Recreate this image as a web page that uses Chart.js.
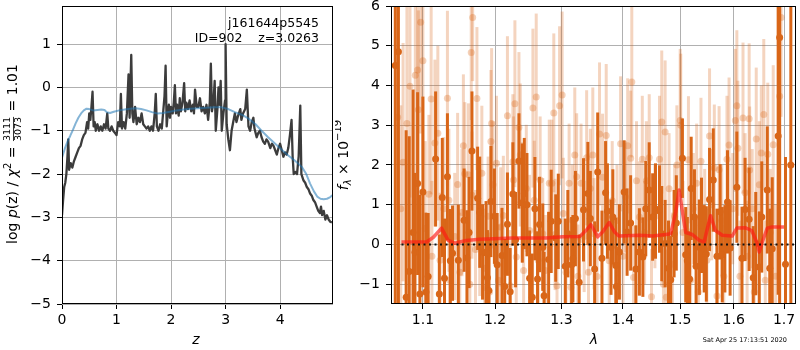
<!DOCTYPE html>
<html>
<head>
<meta charset="utf-8">
<script src="https://cdn.jsdelivr.net/npm/chart.js@4.4.1/dist/chart.umd.min.js"></script>
<style>
  body { margin: 0; background: #fff; }
  #wrap { position: relative; width: 800px; height: 350px; }
  canvas { position: absolute; top: 0; }
  #pz { left: 0; }
  #spec { left: 335px; }
</style>
</head>
<body>
<div id="wrap">
  <canvas id="pz" width="335" height="350"></canvas>
  <canvas id="spec" width="465" height="350"></canvas>
</div>
<script>
// log p(z) on the redshift grid
const pzCurve = [
  [0.00,-2.95],[0.02,-2.6],[0.04,-2.3],[0.06,-2.2],[0.08,-2.0],[0.10,-1.6],[0.115,-1.2],[0.13,-1.9],
  [0.16,-1.75],[0.19,-1.85],[0.22,-1.7],[0.25,-1.6],[0.28,-1.5],[0.31,-1.4],[0.34,-1.35],[0.37,-1.2],
  [0.40,-1.1],[0.43,-1.05],[0.46,-0.8],[0.48,-0.95],[0.50,-0.6],[0.52,-0.75],[0.54,-0.45],[0.56,-0.1],
  [0.58,-0.9],[0.60,-0.8],[0.62,-1.0],[0.65,-0.85],[0.68,-1.0],[0.71,-0.9],[0.74,-1.0],[0.77,-0.85],
  [0.80,-0.95],[0.83,-0.6],[0.85,-0.95],[0.88,-1.0],[0.91,-0.9],[0.94,-1.0],[0.97,-1.05],[1.00,-1.1],
  [1.03,-0.8],[1.06,-0.9],[1.08,-0.15],[1.10,-0.95],[1.13,-0.8],[1.16,-0.95],[1.19,-0.6],[1.22,0.3],
  [1.24,-0.7],[1.27,0.75],[1.29,-0.6],[1.31,-0.8],[1.34,-0.45],[1.37,-0.85],[1.40,-0.7],[1.43,-0.8],
  [1.46,-0.6],[1.49,-0.85],[1.52,-0.9],[1.55,-0.95],[1.58,-0.9],[1.61,-1.0],[1.64,-0.9],[1.67,-1.0],
  [1.70,-0.6],[1.72,-0.15],[1.74,-0.9],[1.77,-1.0],[1.80,-0.85],[1.83,-0.95],[1.86,-0.5],[1.88,-0.2],
  [1.90,0.5],[1.92,-0.9],[1.94,-0.6],[1.96,-0.4],[1.98,-0.7],[2.00,-0.45],[2.03,-0.6],[2.05,-0.35],
  [2.07,0.05],[2.09,-0.6],[2.11,-0.4],[2.14,-0.65],[2.16,-0.25],[2.18,-0.55],[2.21,-0.35],[2.24,0.1],
  [2.26,-0.55],[2.28,-0.35],[2.31,-0.5],[2.34,-0.3],[2.37,-0.55],[2.40,-0.4],[2.42,-0.6],[2.44,-0.05],
  [2.47,-0.45],[2.50,-0.45],[2.53,-0.25],[2.56,-0.55],[2.59,-0.45],[2.62,-0.6],[2.65,-0.4],[2.68,-0.75],
  [2.71,-0.35],[2.73,0.55],[2.75,-0.55],[2.78,-0.3],[2.80,0.15],[2.82,-1.0],[2.85,-0.5],[2.87,0.0],
  [2.89,-0.4],[2.91,0.15],[2.93,-1.0],[2.96,-0.6],[2.99,-0.3],[3.00,1.0],[3.02,-0.85],[3.05,-1.2],
  [3.08,-1.45],[3.11,-1.0],[3.14,-0.8],[3.17,-0.6],[3.20,-0.8],[3.23,-0.65],[3.27,-0.5],[3.29,-0.75],
  [3.32,-0.6],[3.36,-0.5],[3.39,-0.05],[3.42,-0.9],[3.45,-1.0],[3.48,-0.8],[3.51,-0.7],[3.53,-0.95],
  [3.57,-1.15],[3.60,-1.05],[3.63,-1.0],[3.66,-1.15],[3.69,-1.25],[3.72,-1.3],[3.75,-1.2],[3.78,-1.25],
  [3.82,-1.4],[3.85,-1.3],[3.88,-1.35],[3.91,-1.45],[3.94,-1.55],[3.97,-1.4],[4.00,-1.3],[4.03,-1.45],
  [4.06,-1.6],[4.09,-1.5],[4.12,-1.55],[4.15,-1.4],[4.18,-1.1],[4.21,-0.75],[4.23,-1.6],[4.25,-2.0],
  [4.28,-1.95],[4.31,-2.0],[4.34,-1.6],[4.37,-0.42],[4.39,-2.0],[4.43,-2.15],[4.46,-2.2],[4.49,-2.3],
  [4.52,-2.35],[4.55,-2.45],[4.58,-2.5],[4.61,-2.6],[4.64,-2.65],[4.67,-2.75],[4.70,-2.85],[4.73,-2.9],
  [4.75,-2.75],[4.77,-2.95],[4.80,-2.85],[4.83,-3.05],[4.86,-2.95],[4.89,-3.05],[4.92,-3.1],[4.95,-3.12]
];

// prior-weighted smooth version
const pzSmooth = [
  [0.0,-1.62],[0.05,-1.42],[0.1,-1.25],[0.15,-1.12],[0.2,-0.98],[0.25,-0.83],[0.3,-0.7],[0.35,-0.6],
  [0.4,-0.53],[0.45,-0.49],[0.5,-0.5],[0.57,-0.53],[0.65,-0.52],[0.72,-0.51],[0.78,-0.52],[0.82,-0.57],
  [0.88,-0.59],[0.95,-0.56],[1.05,-0.53],[1.15,-0.51],[1.25,-0.49],[1.35,-0.48],[1.45,-0.5],[1.55,-0.53],
  [1.65,-0.57],[1.75,-0.6],[1.85,-0.59],[1.98,-0.56],[2.1,-0.53],[2.23,-0.51],[2.35,-0.49],[2.5,-0.48],
  [2.65,-0.47],[2.8,-0.46],[2.93,-0.46],[3.05,-0.5],[3.17,-0.57],[3.3,-0.63],[3.42,-0.72],[3.55,-0.85],
  [3.66,-1.0],[3.78,-1.15],[3.91,-1.3],[4.03,-1.44],[4.15,-1.57],[4.28,-1.7],[4.4,-1.84],[4.48,-2.0],
  [4.55,-2.22],[4.62,-2.4],[4.68,-2.52],[4.74,-2.57],[4.8,-2.58],[4.86,-2.57],[4.92,-2.53],[4.97,-2.48]
];

const zTicks = [0, 1, 2, 3, 4];
const pzTicks = [-5, -4, -3, -2, -1, 0, 1];
const lamTicks = [1.1, 1.2, 1.3, 1.4, 1.5, 1.6, 1.7];
const fluxTicks = [-1, 0, 1, 2, 3, 4, 5, 6];

// [lambda, flux, error] for the main spectrum
const darkPts = [
  [1.064,4.5,9],[1.068,4.85,9],[1.078,-1.33,4.2],[1.082,-0.68,3.4],[1.087,0.3,3.6],[1.0895,-0.2,2.0],
  [1.093,1.53,2.3],[1.096,-1.25,2.5],[1.100,1.32,2.4],[1.104,-1.2,2.0],[1.107,-0.81,1.6],[1.117,2.15,1.7],
  [1.122,-1.25,1.5],[1.126,1.18,1.5],[1.129,-0.85,1.5],[1.133,1.70,1.6],[1.137,-0.41,1.3],[1.140,-0.22,1.2],
  [1.148,-0.4,1.4],[1.156,0.61,1.3],[1.160,-0.34,1.2],[1.163,0.30,1.4],[1.167,2.35,1.5],[1.175,1.16,1.3],
  [1.178,0.81,1.4],[1.182,-0.19,1.2],[1.187,-0.21,1.3],[1.189,-0.84,1.2],[1.191,-1.16,1.3],[1.194,1.08,1.4],
  [1.199,0.71,1.2],[1.203,-0.51,1.3],[1.210,-0.28,1.2],[1.214,-1.06,1.2],[1.218,0.51,1.3],[1.222,-1.19,1.1],
  [1.226,1.27,1.3],[1.230,0.12,1.2],[1.235,2.10,1.2],[1.240,1.04,1.5],[1.243,1.28,1.4],[1.247,1.0,1.3],
  [1.251,-0.85,1.2],[1.255,-1.33,1.1],[1.259,0.90,1.3],[1.263,-0.87,1.2],[1.266,0.50,1.2],[1.271,-0.07,1.1],
  [1.273,-1.29,1.1],[1.280,-0.38,1.2],[1.284,0.58,1.3],[1.291,0.16,1.1],[1.295,0.58,1.2],[1.306,-0.55,1.2],
  [1.310,0.27,1.1],[1.316,-0.51,1.2],[1.318,-0.36,1.1],[1.322,0.65,1.2],[1.328,-0.95,1.2],[1.335,0.87,1.3],
  [1.342,1.28,1.3],[1.346,0.65,1.2],[1.353,-0.62,1.2],[1.358,1.82,1.5],[1.365,-0.35,1.2],[1.371,1.30,1.3],
  [1.374,0.84,1.2],[1.380,-0.07,1.2],[1.383,0.69,1.2],[1.388,-0.53,1.2],[1.389,-1.06,1.0],[1.394,-0.19,1.2],
  [1.402,1.32,1.3],[1.407,0.31,1.1],[1.413,0.54,1.2],[1.422,-0.62,1.1],[1.428,-0.19,1.1],[1.434,-0.32,1.0],
  [1.439,0.90,1.2],[1.445,1.37,1.2],[1.451,0.69,1.1],[1.456,0.84,1.2],[1.463,0.89,1.1],[1.467,0.27,1.2],
  [1.473,0.02,1.1],[1.479,-0.60,1.2],[1.483,-0.89,1.1],[1.489,0.27,1.1],[1.493,0.54,1.2],[1.504,2.17,1.0],
  [1.510,-0.26,1.2],[1.513,-0.41,1.1],[1.517,-0.87,1.2],[1.520,1.41,1.3],[1.526,0.69,1.2],[1.529,-0.55,1.2],
  [1.535,-0.07,1.2],[1.539,0.48,1.2],[1.544,-0.11,1.1],[1.548,-0.24,1.2],[1.554,1.13,1.3],[1.561,1.62,1.3],
  [1.568,-0.30,1.2],[1.574,0.82,1.2],[1.578,-0.26,1.2],[1.583,-0.11,1.1],[1.588,1.07,1.3],[1.593,-0.09,1.2],
  [1.606,1.44,1.4],[1.616,-0.35,1.3],[1.622,0.88,1.3],[1.630,0.63,1.3],[1.638,-0.84,1.3],[1.643,0.02,1.3],
  [1.650,-0.57,1.4],[1.655,0.69,1.4],[1.666,1.37,1.6],[1.671,-0.60,1.5],[1.676,-0.11,1.8],[1.688,2.73,4.0],
  [1.691,5.21,7],[1.703,-0.5,2.7],[1.714,2.0,6]
];

// [lambda, flux, error] for the second grism
const lightPts = [
  [1.067,3.2,3.0],[1.071,0.9,2.6],[1.074,2.07,3.0],[1.079,3.04,3.0],[1.083,3.98,2.8],[1.090,4.26,2.8],
  [1.093,4.39,2.6],[1.094,3.39,2.5],[1.097,5.59,2.8],[1.100,4.62,2.6],[1.103,0.4,2.2],[1.108,1.26,2.0],
  [1.111,3.66,2.4],[1.112,-0.3,1.9],[1.116,2.55,2.1],[1.120,2.80,2.2],[1.123,-0.4,1.7],[1.128,0.9,1.8],
  [1.133,3.68,2.2],[1.135,1.11,1.8],[1.136,-0.9,1.5],[1.143,0.2,1.6],[1.147,1.51,1.8],[1.150,-0.7,1.5],
  [1.153,0.80,1.6],[1.155,2.48,1.8],[1.157,1.78,1.8],[1.162,1.75,1.8],[1.164,-1.0,1.4],[1.166,4.83,1.7],
  [1.167,1.24,1.6],[1.168,5.71,1.6],[1.172,-0.13,1.5],[1.174,3.67,1.8],[1.178,0.3,1.6],[1.181,1.79,1.7],
  [1.185,-0.6,1.5],[1.188,-1.1,1.4],[1.190,0.71,1.5],[1.192,-1.2,1.5],[1.194,2.59,1.8],[1.195,3.04,1.9],
  [1.197,1.5,1.6],[1.202,2.04,1.7],[1.205,-0.9,1.4],[1.208,0.44,1.5],[1.212,0.73,1.5],[1.218,3.24,2.0],
  [1.222,-1.04,1.4],[1.226,2.08,1.7],[1.227,1.62,1.6],[1.229,3.54,2.1],[1.231,-0.32,1.4],[1.235,2.94,1.9],
  [1.237,2.25,1.8],[1.240,1.07,1.5],[1.242,-0.66,1.4],[1.246,1.41,1.6],[1.251,0.35,1.4],[1.256,3.43,2.0],
  [1.258,1.11,1.5],[1.261,3.71,2.1],[1.264,-0.4,1.4],[1.267,1.62,1.6],[1.271,0.27,1.4],[1.275,-0.66,1.4],
  [1.281,1.54,1.6],[1.285,1.54,1.6],[1.288,3.31,2.0],[1.290,0.25,1.4],[1.293,-1.04,1.3],[1.297,3.49,2.0],
  [1.301,3.76,2.1],[1.303,0.78,1.4],[1.307,-0.7,1.3],[1.312,1.54,1.5],[1.315,-1.08,1.3],[1.317,0.61,1.4],
  [1.321,2.25,1.7],[1.324,1.70,1.6],[1.326,-0.8,1.3],[1.331,1.54,1.5],[1.336,0.2,1.4],[1.340,2.18,1.7],
  [1.343,-0.7,1.3],[1.346,1.41,1.5],[1.350,2.25,1.7],[1.352,0.27,1.4],[1.357,-0.81,1.3],[1.361,2.78,1.8],
  [1.366,1.69,1.6],[1.372,2.74,1.8],[1.377,-0.41,1.3],[1.382,1.1,1.5],[1.390,0.6,1.4],[1.396,2.53,1.7],
  [1.400,-0.3,1.3],[1.404,1.20,1.4],[1.408,2.48,1.7],[1.413,2.17,1.7],[1.415,4.09,1.9],[1.418,-0.83,1.3],
  [1.423,1.6,1.5],[1.428,0.69,1.4],[1.433,2.14,1.6],[1.437,0.3,1.3],[1.440,1.6,1.5],[1.445,2.18,1.6],
  [1.449,-1.32,1.2],[1.455,0.7,1.3],[1.463,2.14,1.6],[1.467,3.08,1.8],[1.470,-1.0,1.2],[1.473,2.83,1.8],
  [1.475,-1.33,1.2],[1.480,1.4,1.4],[1.486,-0.5,1.3],[1.490,0.7,1.3],[1.494,2.0,1.5],[1.500,3.12,1.8],
  [1.501,3.0,1.8],[1.505,0.3,1.3],[1.515,2.13,1.6],[1.519,-0.9,1.3],[1.524,0.9,1.4],[1.530,1.54,1.5],
  [1.533,-1.2,1.3],[1.538,2.09,1.6],[1.545,0.5,1.4],[1.549,-0.4,1.3],[1.554,2.73,1.7],[1.558,1.0,1.4],
  [1.563,1.92,1.6],[1.568,-1.3,1.3],[1.572,1.88,1.6],[1.577,0.6,1.4],[1.581,-0.8,1.3],[1.587,2.14,1.6],
  [1.591,2.50,1.7],[1.598,0.9,1.4],[1.603,3.12,1.8],[1.606,3.49,1.9],[1.608,2.42,1.7],[1.612,-0.8,1.4],
  [1.618,3.18,1.9],[1.622,1.3,1.5],[1.626,-0.3,1.4],[1.630,3.16,1.9],[1.631,1.87,1.6],[1.636,0.9,1.5],
  [1.640,-1.2,1.4],[1.644,2.65,1.8],[1.650,1.5,1.6],[1.654,2.30,1.7],[1.659,3.27,1.9],[1.662,-0.9,1.5],
  [1.667,2.27,1.8],[1.672,0.3,1.6],[1.678,2.51,2.0],[1.683,-0.8,1.8],[1.691,3.73,2.2],[1.694,5.71,2.5]
];

// best-fit template
const modelLam = [1.072,1.105,1.114,1.125,1.134,1.143,1.159,1.178,1.226,1.276,1.302,1.329,1.339,1.347,
  1.358,1.366,1.377,1.386,1.393,1.428,1.451,1.474,1.483,1.492,1.498,1.504,1.510,1.522,1.535,1.544,
  1.550,1.556,1.565,1.578,1.597,1.606,1.622,1.635,1.645,1.650,1.656,1.666,1.676,1.700];
const modelFlux = [0.06,0.06,0.18,0.41,0.10,0.03,0.10,0.13,0.16,0.16,0.19,0.20,0.35,0.50,
  0.19,0.31,0.55,0.31,0.21,0.23,0.21,0.25,0.27,0.82,1.37,0.82,0.30,0.25,0.10,0.06,
  0.40,0.72,0.35,0.23,0.21,0.41,0.42,0.35,0.06,-0.19,0.06,0.41,0.44,0.44];
const zeroLam = [1.072, 1.725];

const FONT = '"DejaVu Sans", sans-serif';
const DARK = 'rgb(217,102,24)';
const LIGHT = 'rgba(217,102,24,0.28)';
const minus = v => String(v).replace('-', '\u2212');

function axis(type, min, max, ticks, fmt, fit, horizontal) {
  return {
    type, min, max,
    afterBuildTicks: s => { s.ticks = ticks.map(value => ({ value })); },
    afterFit: s => {
      if (horizontal) { s.height = fit; s.paddingLeft = 0; s.paddingRight = 0; }
      else { s.width = fit; s.paddingTop = 0; s.paddingBottom = 0; }
    },
    grid: { color: '#b0b0b0', lineWidth: 1, tickLength: 5, tickColor: '#000' },
    border: { display: false },
    ticks: {
      color: '#000', font: { family: FONT, size: 14 }, padding: horizontal ? 3 : 6,
      maxRotation: 0, autoSkip: false, callback: fmt
    }
  };
}

const frame = {
  id: 'frame',
  afterDatasetsDraw(chart) {
    const { ctx, chartArea: a } = chart;
    ctx.save();
    ctx.strokeStyle = '#000';
    ctx.lineWidth = 1;
    ctx.strokeRect(Math.round(a.left) + 0.5, Math.round(a.top) + 0.5,
      Math.round(a.right - a.left) - 1, Math.round(a.bottom - a.top) - 1);
    ctx.restore();
  }
};

// pieces: [text, font, dy]; frac pieces: {num, den, font}
function drawRotated(ctx, cx, cy, pieces) {
  const width = p => {
    if (p.num) { ctx.font = p.font; return Math.max(ctx.measureText(p.num).width, ctx.measureText(p.den).width) + 2; }
    ctx.font = p[1]; return ctx.measureText(p[0]).width;
  };
  ctx.save();
  ctx.translate(cx, cy);
  ctx.rotate(-Math.PI / 2);
  ctx.fillStyle = '#000';
  ctx.strokeStyle = '#000';
  ctx.textBaseline = 'middle';
  ctx.textAlign = 'left';
  const total = pieces.reduce((s, p) => s + width(p), 0);
  let x = -total / 2;
  pieces.forEach(p => {
    const w = width(p);
    if (p.num) {
      ctx.font = p.font;
      ctx.textAlign = 'center';
      ctx.fillText(p.num, x + w / 2, -5);
      ctx.fillText(p.den, x + w / 2, 6);
      ctx.lineWidth = 0.8;
      ctx.beginPath(); ctx.moveTo(x + 1, 0.5); ctx.lineTo(x + w - 1, 0.5); ctx.stroke();
      ctx.textAlign = 'left';
    } else {
      ctx.font = p[1];
      ctx.fillText(p[0], x, p[2] || 0);
    }
    x += w;
  });
  ctx.restore();
}

const pzText = {
  id: 'pzText',
  afterDraw(chart) {
    const ctx = chart.ctx;
    const n = '14px ' + FONT, it = 'italic 14px ' + FONT, sm = '10px ' + FONT;
    drawRotated(ctx, 13, 154, [
      ['log ', n], ['p', it], ['(z) / ', n], ['\u03c7', it], ['2', sm, -5], [' = ', n],
      { num: '3111', den: '3073', font: '9.5px ' + FONT }, [' = 1.01', n]
    ]);
    ctx.save();
    ctx.fillStyle = '#000';
    ctx.font = 'italic 14px ' + FONT;
    ctx.textAlign = 'center';
    ctx.textBaseline = 'middle';
    ctx.fillText('z', 196, 340);
    ctx.font = '12.5px ' + FONT;
    ctx.textAlign = 'right';
    ctx.textBaseline = 'alphabetic';
    ctx.fillText('j161644p5545', 319, 27);
    ctx.fillText('ID=902    z=3.0263', 319, 42);
    ctx.restore();
  }
};

const specText = {
  id: 'specText',
  afterDraw(chart) {
    const ctx = chart.ctx;
    drawRotated(ctx, 9, 155, [
      ['f', 'italic 14px ' + FONT], ['\u03bb', 'italic 10px ' + FONT, 4],
      [' \u00d7 10', '14px ' + FONT], ['\u221219', '10px ' + FONT, -6]
    ]);
    ctx.save();
    ctx.fillStyle = '#000';
    ctx.font = 'italic 14px ' + FONT;
    ctx.textAlign = 'center';
    ctx.textBaseline = 'middle';
    ctx.fillText('\u03bb', 259, 340);
    ctx.font = '6.5px ' + FONT;
    ctx.textAlign = 'right';
    ctx.fillText('Sat Apr 25 17:13:51 2020', 452, 340);
    ctx.restore();
  }
};

// vertical error bars, drawn just before each dataset's markers
const errorBars = {
  id: 'errorBars',
  beforeDatasetDraw(chart, args) {
    const ds = chart.data.datasets[args.index];
    if (!ds.errs) return;
    const { ctx, chartArea: a, scales: { x, y } } = chart;
    ctx.save();
    ctx.beginPath();
    ctx.rect(a.left, a.top, a.right - a.left, a.bottom - a.top);
    ctx.clip();
    ctx.strokeStyle = ds.barColor;
    ctx.lineWidth = 3;
    ds.data.forEach((p, i) => {
      const px = x.getPixelForValue(p.x);
      ctx.beginPath();
      ctx.moveTo(px, y.getPixelForValue(p.y - ds.errs[i]));
      ctx.lineTo(px, y.getPixelForValue(p.y + ds.errs[i]));
      ctx.stroke();
    });
    ctx.restore();
  }
};

new Chart(document.getElementById('pz'), {
  type: 'scatter',
  data: {
    datasets: [
      {
        data: pzSmooth.map(([x, y]) => ({ x, y })),
        showLine: true, pointRadius: 0, borderWidth: 2,
        borderColor: 'rgba(31,119,180,0.55)', borderJoinStyle: 'round'
      },
      {
        data: pzCurve.map(([x, y]) => ({ x, y })),
        showLine: true, pointRadius: 0, borderWidth: 2.3,
        borderColor: '#3c3c3c', borderJoinStyle: 'round'
      }
    ]
  },
  options: {
    responsive: false, animation: false, devicePixelRatio: 1,
    layout: { padding: { top: 6, right: 2, left: 0, bottom: 0 } },
    plugins: { legend: { display: false }, tooltip: { enabled: false } },
    scales: {
      x: axis('linear', 0, 4.97, zTicks, v => minus(v), 46, true),
      y: axis('linear', -5, 1.88, pzTicks, v => minus(v), 62, false)
    }
  },
  plugins: [frame, pzText]
});

new Chart(document.getElementById('spec'), {
  type: 'scatter',
  data: {
    datasets: [
      {
        data: zeroLam.map(x => ({ x, y: 0 })),
        showLine: true, pointRadius: 0, borderWidth: 2,
        borderColor: '#111', borderDash: [2, 3.5]
      },
      {
        data: modelLam.map((x, i) => ({ x, y: modelFlux[i] })),
        showLine: true, pointRadius: 0, borderWidth: 3.5,
        borderColor: 'rgba(255,25,20,0.65)', borderJoinStyle: 'round'
      },
      {
        data: darkPts.map(([x, y]) => ({ x, y })),
        errs: darkPts.map(p => p[2]), barColor: DARK,
        pointRadius: 3.5, backgroundColor: DARK, borderWidth: 0
      },
      {
        data: lightPts.map(([x, y]) => ({ x, y })),
        errs: lightPts.map(p => p[2]), barColor: LIGHT,
        pointRadius: 3.5, backgroundColor: 'rgba(217,102,24,0.3)', borderWidth: 0
      }
    ]
  },
  options: {
    responsive: false, animation: false, devicePixelRatio: 1,
    layout: { padding: { top: 6, right: 3, left: 0, bottom: 0 } },
    plugins: { legend: { display: false }, tooltip: { enabled: false } },
    scales: {
      x: axis('logarithmic', 1.0585, 1.7247, lamTicks, v => v.toFixed(1), 46, true),
      y: axis('linear', -1.5, 6, fluxTicks, v => minus(v), 56, false)
    }
  },
  plugins: [frame, errorBars, specText]
});
</script>
</body>
</html>
